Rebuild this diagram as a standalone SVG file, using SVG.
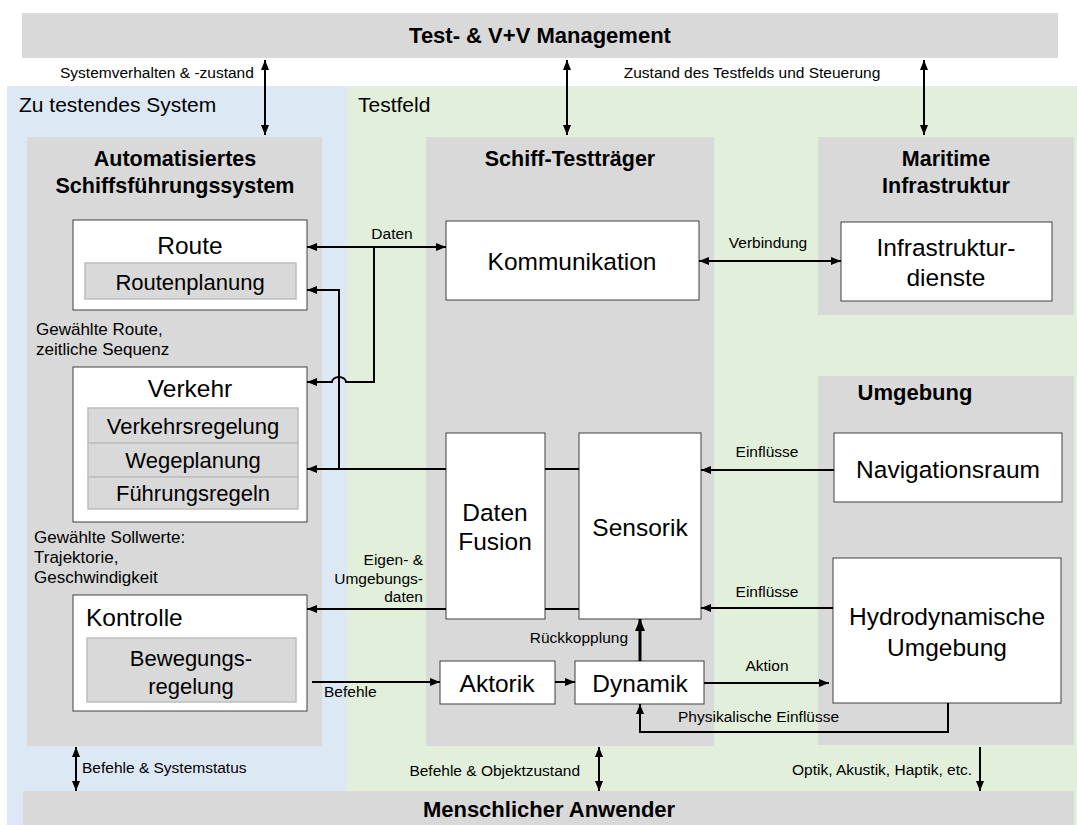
<svg xmlns="http://www.w3.org/2000/svg" width="1077" height="825" viewBox="0 0 1077 825">
  <style>
    text { font-family: "Liberation Sans", Arial, sans-serif; fill: #000; }
    .bar { fill: #d9d9d9; }
    .group { fill: #d9d9d9; }
    .box { fill: #fff; stroke: #404040; stroke-width: 1; }
    .sub { fill: #d9d9d9; stroke: #bdbdbd; stroke-width: 1.5; }
    .title { font-size: 21.5px; font-weight: bold; text-anchor: middle; }
    .big { font-size: 24.5px; text-anchor: middle; }
    .mid { font-size: 22px; text-anchor: middle; }
    .lbl { font-size: 15.5px; }
    .lbl2 { font-size: 17px; }
    .zone { font-size: 21px; }
    .wire { fill: none; stroke: #000; stroke-width: 2; }
  </style>
  <defs>
    <marker id="arr" viewBox="0 0 10 8" refX="10" refY="4" markerWidth="10" markerHeight="8" markerUnits="userSpaceOnUse" orient="auto-start-reverse">
      <path d="M0,0 L10,4 L0,8 Z" fill="#000"/>
    </marker>
    <marker id="arrBig" viewBox="0 0 12 10" refX="12" refY="5" markerWidth="12" markerHeight="10" markerUnits="userSpaceOnUse" orient="auto">
      <path d="M0,0 L12,5 L0,10 Z" fill="#000"/>
    </marker>
  </defs>

  <!-- background zones -->
  <g id="zones">
    <rect x="7" y="86" width="340" height="739" fill="#dde8f5"/>
    <rect x="347" y="86" width="730" height="739" fill="#e2efda"/>
    <text class="zone" x="19" y="112">Zu testendes System</text>
    <text class="zone" x="358" y="112">Testfeld</text>
  </g>

  <!-- management bar -->
  <g id="management">
    <rect class="bar" x="22" y="13" width="1036" height="45"/>
    <text class="title" x="540" y="43" style="font-size:22px">Test- &amp; V+V Management</text>
  </g>

  <!-- user bar -->
  <g id="user">
    <rect class="bar" x="23" y="791" width="1051" height="34"/>
    <text class="title" x="549" y="817" style="font-size:22px">Menschlicher Anwender</text>
  </g>

  <!-- automated navigation system -->
  <g id="asfs">
    <rect class="group" x="27" y="137" width="295" height="609"/>
    <text class="title" x="175" y="166">Automatisiertes</text>
    <text class="title" x="175" y="193">Schiffsführungssystem</text>
  </g>

  <g id="route">
    <rect class="box" x="73" y="220" width="234" height="90"/>
    <text class="big" x="190" y="254">Route</text>
    <rect class="sub" x="85" y="263" width="211" height="36"/>
    <text class="mid" x="190" y="290">Routenplanung</text>
  </g>

  <g id="verkehr">
    <rect class="box" x="73" y="367" width="234" height="155"/>
    <text class="big" x="190" y="397">Verkehr</text>
    <rect class="sub" x="88" y="408" width="210" height="35"/>
    <rect class="sub" x="88" y="443" width="210" height="34"/>
    <rect class="sub" x="88" y="477" width="210" height="32"/>
    <text class="mid" x="193" y="434">Verkehrsregelung</text>
    <text class="mid" x="193" y="468">Wegeplanung</text>
    <text class="mid" x="193" y="501">Führungsregeln</text>
  </g>

  <g id="kontrolle">
    <rect class="box" x="73" y="595" width="234" height="116"/>
    <text class="big" x="86" y="626" style="text-anchor:start">Kontrolle</text>
    <rect class="sub" x="87" y="638" width="209" height="64"/>
    <text class="mid" x="191" y="666">Bewegungs-</text>
    <text class="mid" x="191" y="694">regelung</text>
  </g>

  <!-- ship test carrier -->
  <g id="schiff">
    <rect class="group" x="426" y="137" width="288" height="609"/>
    <text class="title" x="570" y="166">Schiff-Testträger</text>
  </g>

  <g id="kommunikation">
    <rect class="box" x="446" y="221" width="253" height="79"/>
    <text class="big" x="572" y="270">Kommunikation</text>
  </g>

  <g id="fusion">
    <rect class="box" x="446" y="433" width="99" height="186"/>
    <text class="big" x="495" y="521">Daten</text>
    <text class="big" x="495" y="550">Fusion</text>
  </g>

  <g id="sensorik">
    <rect class="box" x="579" y="433" width="122" height="186"/>
    <text class="big" x="640" y="536">Sensorik</text>
  </g>

  <g id="aktorik">
    <rect class="box" x="440" y="661" width="115" height="43"/>
    <text class="big" x="497" y="692">Aktorik</text>
  </g>

  <g id="dynamik">
    <rect class="box" x="575" y="661" width="129" height="43"/>
    <text class="big" x="640" y="692">Dynamik</text>
  </g>

  <!-- maritime infrastructure -->
  <g id="infrastruktur">
    <rect class="group" x="818" y="137" width="256" height="178"/>
    <text class="title" x="946" y="166">Maritime</text>
    <text class="title" x="946" y="193">Infrastruktur</text>
  </g>

  <g id="dienste">
    <rect class="box" x="841" y="222" width="211" height="79"/>
    <text class="big" x="946" y="256">Infrastruktur-</text>
    <text class="big" x="946" y="286">dienste</text>
  </g>

  <!-- environment -->
  <g id="umgebung">
    <rect class="group" x="818" y="376" width="256" height="369"/>
    <text class="title" x="915" y="400" style="font-size:22px">Umgebung</text>
  </g>

  <g id="navigationsraum">
    <rect class="box" x="834" y="433" width="228" height="69"/>
    <text class="big" x="948" y="478">Navigationsraum</text>
  </g>

  <g id="hydro">
    <rect class="box" x="833" y="558" width="228" height="145"/>
    <text class="big" x="947" y="625">Hydrodynamische</text>
    <text class="big" x="947" y="656">Umgebung</text>
  </g>

  <!-- connectors -->
  <g id="connectors">
    <path class="wire" d="M265 60 V135" marker-start="url(#arr)" marker-end="url(#arr)"/>
    <path class="wire" d="M567 60 V135" marker-start="url(#arr)" marker-end="url(#arr)"/>
    <path class="wire" d="M924 60 V135" marker-start="url(#arr)" marker-end="url(#arr)"/>

    <path class="wire" d="M307 247 H446" marker-start="url(#arr)" marker-end="url(#arr)"/>
    <path class="wire" d="M374 247 V382 H346 A7 5 0 0 0 332 382 H307" marker-end="url(#arr)"/>
    <path class="wire" d="M339 469 V290 H307" marker-end="url(#arr)"/>
    <path class="wire" d="M446 469 H307" marker-end="url(#arr)"/>
    <path class="wire" d="M545 469 H579"/>
    <path class="wire" d="M545 609 H579"/>
    <path class="wire" d="M446 609 H307" marker-end="url(#arr)"/>

    <path class="wire" d="M699 261 H841" marker-start="url(#arr)" marker-end="url(#arr)"/>
    <path class="wire" d="M834 470 H701" marker-end="url(#arr)"/>
    <path class="wire" d="M833 608 H701" marker-end="url(#arr)"/>

    <path class="wire" d="M312 682 H440" marker-end="url(#arr)"/>
    <path class="wire" d="M555 682 H575" marker-end="url(#arr)"/>
    <path class="wire" d="M704 683 H829" marker-end="url(#arr)"/>
    <path class="wire" d="M948 703 V732 H640 V704" marker-end="url(#arr)"/>
    <path class="wire" d="M640 661 V619" style="stroke-width:3" marker-end="url(#arrBig)"/>

    <path class="wire" d="M76 747 V791" marker-start="url(#arr)" marker-end="url(#arr)"/>
    <path class="wire" d="M599 747 V791" marker-start="url(#arr)" marker-end="url(#arr)"/>
    <path class="wire" d="M980 747 V791" marker-end="url(#arr)"/>
  </g>

  <!-- connector labels -->
  <g id="labels">
    <text class="lbl" x="60" y="78">Systemverhalten &amp; -zustand</text>
    <text class="lbl" x="752" y="78" text-anchor="middle">Zustand des Testfelds und Steuerung</text>
    <text class="lbl" x="392" y="239" text-anchor="middle">Daten</text>
    <text class="lbl" x="768" y="248" text-anchor="middle">Verbindung</text>
    <text class="lbl2" x="36" y="335">Gewählte Route,</text>
    <text class="lbl2" x="36" y="355">zeitliche Sequenz</text>
    <text class="lbl2" x="34" y="543">Gewählte Sollwerte:</text>
    <text class="lbl2" x="34" y="563">Trajektorie,</text>
    <text class="lbl2" x="34" y="583">Geschwindigkeit</text>
    <text class="lbl" x="423" y="565" text-anchor="end">Eigen- &amp;</text>
    <text class="lbl" x="423" y="584" text-anchor="end">Umgebungs-</text>
    <text class="lbl" x="423" y="602" text-anchor="end">daten</text>
    <text class="lbl" x="767" y="457" text-anchor="middle">Einflüsse</text>
    <text class="lbl" x="767" y="597" text-anchor="middle">Einflüsse</text>
    <text class="lbl" x="628" y="643" text-anchor="end">Rückkopplung</text>
    <text class="lbl" x="324" y="697">Befehle</text>
    <text class="lbl" x="767" y="671" text-anchor="middle">Aktion</text>
    <text class="lbl" x="678" y="722">Physikalische Einflüsse</text>
    <text class="lbl" x="82" y="773">Befehle &amp; Systemstatus</text>
    <text class="lbl" x="580" y="776" text-anchor="end">Befehle &amp; Objektzustand</text>
    <text class="lbl" x="972" y="775" text-anchor="end">Optik, Akustik, Haptik, etc.</text>
  </g>
</svg>
